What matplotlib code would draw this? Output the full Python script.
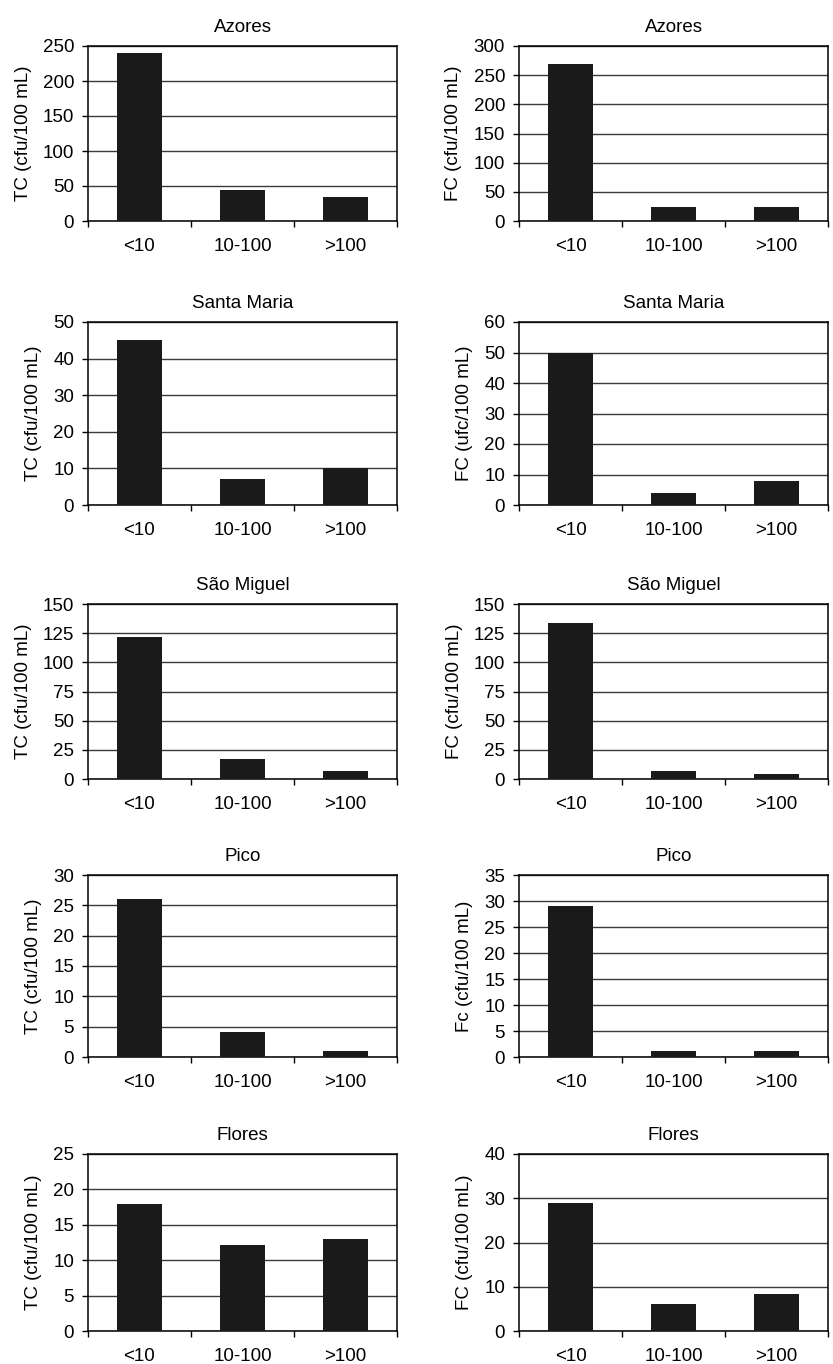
import numpy as np
import matplotlib
matplotlib.use("Agg")
import matplotlib.pyplot as plt

plt.rcParams['font.family'] = ['Liberation Sans', 'DejaVu Sans']

categories = ["<10", "10-100", ">100"]
islands = ["Azores", "Santa Maria", "São Miguel", "Pico", "Flores"]

tc_values = [
    [240, 45, 34],
    [45, 7, 10],
    [122, 17, 7],
    [26, 4.2, 1],
    [18, 12.2, 13],
]
fc_values = [
    [270, 24, 24],
    [50, 4, 8],
    [134, 7, 4],
    [29, 1.2, 1.2],
    [29, 6.2, 8.3],
]

tc_ylabels = ["TC (cfu/100 mL)"] * 5
fc_ylabels = ["FC (cfu/100 mL)", "FC (ufc/100 mL)", "FC (cfu/100 mL)",
              "Fc (cfu/100 mL)", "FC (cfu/100 mL)"]

tc_ymax = [250, 50, 150, 30, 25]
tc_step = [50, 10, 25, 5, 5]
fc_ymax = [300, 60, 150, 35, 40]
fc_step = [50, 10, 25, 5, 10]

# axes position in pixels: (top, bottom) for each row
W, H = 833, 1364
rows_px = [(46, 221), (322, 505), (604, 779), (875, 1057), (1154, 1331)]
cols_px = [(88, 397), (519, 828)]

FS = 13.5


def draw_panel(ax, values, title, ylabel, ymax, step):
    x = np.arange(len(categories))
    ax.bar(x, values, width=0.43, color="#1a1a1a", zorder=3)
    ax.set_xlim(-0.5, len(categories) - 0.5)
    ax.set_ylim(0, ymax)
    ax.set_yticks(np.arange(0, ymax + step / 2, step))
    ax.yaxis.grid(True, color="#3a3a3a", linewidth=1.0, zorder=0)
    ax.set_axisbelow(True)
    # category labels centred, tick marks between categories
    ax.set_xticks(x)
    ax.set_xticklabels(categories)
    ax.tick_params(axis="x", which="major", length=0, pad=12, labelsize=FS)
    ax.set_xticks(np.arange(-0.5, len(categories), 1), minor=True)
    ax.tick_params(axis="x", which="minor", length=4.5, width=1.0,
                   direction="out")
    ax.tick_params(axis="y", length=4, width=1.0, labelsize=FS, pad=6)
    for s in ax.spines.values():
        s.set_linewidth(1.1)
        s.set_color("black")
    ax.set_title(title, fontsize=FS, pad=10)
    ax.set_ylabel(ylabel, fontsize=FS, labelpad=8)


fig = plt.figure(figsize=(W / 100, H / 100), dpi=100)
for r in range(5):
    top, bottom = rows_px[r]
    for c in range(2):
        left, right = cols_px[c]
        ax = fig.add_axes([left / W, 1 - bottom / H, (right - left) / W,
                           (bottom - top) / H])
        if c == 0:
            draw_panel(ax, tc_values[r], islands[r], tc_ylabels[r],
                       tc_ymax[r], tc_step[r])
        else:
            draw_panel(ax, fc_values[r], islands[r], fc_ylabels[r],
                       fc_ymax[r], fc_step[r])

fig.savefig("out.png", dpi=100)
